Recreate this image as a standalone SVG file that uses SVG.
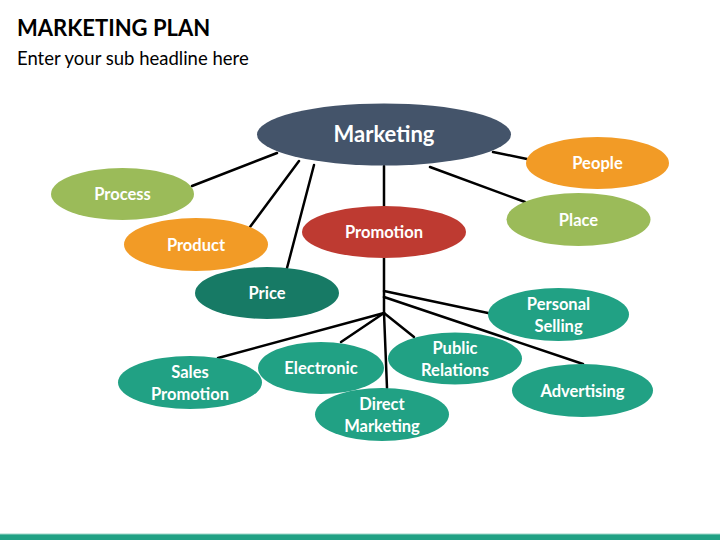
<svg xmlns="http://www.w3.org/2000/svg" width="720" height="540" viewBox="0 0 720 540">
<style>
.t{font-family:Lato,"Liberation Sans",sans-serif;font-weight:bold;fill:#fff;text-anchor:middle;font-size:16.5px}
.big{font-size:22px}
.ln{stroke:#000;stroke-width:2.5;fill:none;stroke-linecap:round}
.navy{fill:#44546A}.olive{fill:#9BBB59}.orange{fill:#F29B26}.red{fill:#BE3A31}.dteal{fill:#177A65}.teal{fill:#21A184}
</style>
<rect width="720" height="540" fill="#fff"/>
<text x="17" y="36" font-family="Lato,'Liberation Sans',sans-serif" font-weight="bold" font-size="22" fill="#000">MARKETING PLAN</text>
<text x="17" y="65" font-family="Lato,'Liberation Sans',sans-serif" font-size="18.5" fill="#000">Enter your sub headline here</text>
<rect x="0" y="534" width="720" height="6" fill="#21A184"/>
<rect x="0" y="533.5" width="720" height="1" fill="#9fd8c9"/>
<g id="connectors" class="ln">
<line x1="277" y1="153" x2="192" y2="186"/>
<line x1="299" y1="161" x2="250" y2="227"/>
<line x1="314" y1="165" x2="287" y2="268"/>
<line x1="384" y1="166" x2="384" y2="206"/>
<line x1="493" y1="152" x2="527" y2="159"/>
<line x1="430" y1="167" x2="525" y2="202"/>
<line x1="384" y1="258" x2="384" y2="313"/>
<line x1="384" y1="313" x2="387" y2="388"/>
<line x1="384" y1="291" x2="488" y2="313"/>
<line x1="384" y1="297" x2="583" y2="364"/>
<line x1="384" y1="313" x2="218" y2="358"/>
<line x1="384" y1="313" x2="341" y2="342"/>
<line x1="384" y1="313" x2="414" y2="337"/>
</g>
<g id="marketing"><ellipse class="navy" cx="384" cy="134.5" rx="127" ry="31"/><text class="t big" x="384" y="142">Marketing</text></g>
<g id="process"><ellipse class="olive" cx="122.5" cy="194" rx="71.5" ry="26"/><text class="t" x="122.5" y="200">Process</text></g>
<g id="product"><ellipse class="orange" cx="196" cy="244.5" rx="72" ry="26.5"/><text class="t" x="196" y="250.5">Product</text></g>
<g id="price"><ellipse class="dteal" cx="267" cy="293" rx="72" ry="26"/><text class="t" x="267" y="299">Price</text></g>
<g id="promotion"><ellipse class="red" cx="384" cy="232" rx="82" ry="26"/><text class="t" x="384" y="238">Promotion</text></g>
<g id="people"><ellipse class="orange" cx="597.5" cy="163" rx="71.5" ry="26"/><text class="t" x="597.5" y="169">People</text></g>
<g id="place"><ellipse class="olive" cx="578.5" cy="219.5" rx="72" ry="26.5"/><text class="t" x="578.5" y="225.5">Place</text></g>
<g id="personal-selling"><ellipse class="teal" cx="558.5" cy="314.5" rx="70.5" ry="26.5"/><text class="t" x="558.5" y="310">Personal</text><text class="t" x="558.5" y="331.5">Selling</text></g>
<g id="sales-promotion"><ellipse class="teal" cx="190" cy="382.5" rx="72" ry="26.5"/><text class="t" x="190" y="378">Sales</text><text class="t" x="190" y="399.5">Promotion</text></g>
<g id="electronic"><ellipse class="teal" cx="321" cy="368" rx="63" ry="26"/><text class="t" x="321" y="374">Electronic</text></g>
<g id="direct-marketing"><ellipse class="teal" cx="382" cy="414.5" rx="67" ry="26.5"/><text class="t" x="382" y="410">Direct</text><text class="t" x="382" y="431.5">Marketing</text></g>
<g id="public-relations"><ellipse class="teal" cx="455" cy="358.5" rx="67" ry="26"/><text class="t" x="455" y="354">Public</text><text class="t" x="455" y="375.5">Relations</text></g>
<g id="advertising"><ellipse class="teal" cx="582.5" cy="390.5" rx="70.5" ry="26.5"/><text class="t" x="582.5" y="397">Advertising</text></g>
</svg>
